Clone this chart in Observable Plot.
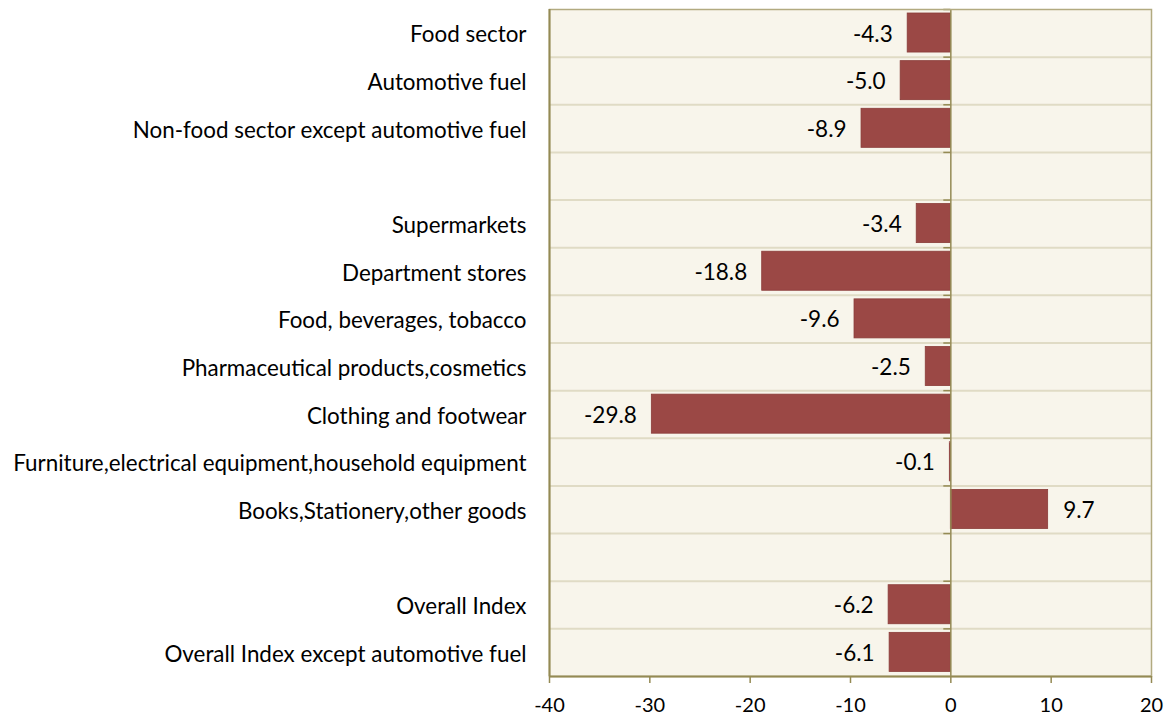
<!DOCTYPE html>
<html>
<head>
<meta charset="utf-8">
<script src="https://cdn.jsdelivr.net/npm/d3@7"></script>
<script src="https://cdn.jsdelivr.net/npm/@observablehq/plot@0.6"></script>
<style>
  html, body { margin: 0; padding: 0; background: #ffffff; }
  #chart svg { display: block; }
</style>
</head>
<body>
<div id="chart"></div>
<script>
// Categories top to bottom ("" = empty spacer row)
const categories = [
  "Food sector",
  "Automotive fuel",
  "Non-food sector except automotive fuel",
  "",
  "Supermarkets",
  "Department stores",
  "Food, beverages, tobacco",
  "Pharmaceutical products,cosmetics",
  "Clothing and footwear",
  "Furniture,electrical equipment,household equipment",
  "Books,Stationery,other goods",
  "",
  "Overall Index",
  "Overall Index except automotive fuel"
];
const values = [-4.3, -5.0, -8.9, null, -3.4, -18.8, -9.6, -2.5, -29.8, -0.1, 9.7, null, -6.2, -6.1];
const xTicks = [-40, -30, -20, -10, 0, 10, 20];

const rows = categories.map((c, i) => ({i, c, v: values[i]}));
const bars = rows.filter(d => d.v !== null);
const n = categories.length;
const boundaries = d3.range(0, n + 1);

const fontFamily = "Lato, 'Open Sans', sans-serif";

const chart = Plot.plot({
  width: 1167,
  height: 720,
  marginLeft: 549,
  marginRight: 16,
  marginTop: 9,
  marginBottom: 44,
  style: {fontFamily, fontSize: "20px", color: "#000", background: "transparent"},
  x: {domain: [-40, 20], label: null},
  y: {domain: [n, 0], label: null},
  marks: [
    // plot background
    Plot.rect([0], {x1: -40, x2: 20, y1: 0, y2: n, fill: "#f8f5eb"}),
    // horizontal row gridlines
    Plot.ruleY(boundaries.slice(1, -1), {stroke: "#e0dbc5", strokeWidth: 2}),
    // bars
    Plot.rectX(bars, {x1: 0, x2: "v", y1: "i", y2: d => d.i + 1, insetTop: 4, insetBottom: 4.6,
      fill: "#9b4845", stroke: "#8a3c39", strokeWidth: 0.8}),
    // zero line and small row ticks
    Plot.ruleX([0], {stroke: "#948a54", strokeWidth: 1.5}),
    Plot.ruleY(boundaries.slice(0, -1), {x1: -0.7, x2: 0, stroke: "#948a54", strokeWidth: 1.5}),
    // frame
    Plot.frame({stroke: "#b2aa80", strokeWidth: 1.5}),
    Plot.ruleX([-40], {stroke: "#948a54", strokeWidth: 2}),
    Plot.ruleY([n], {stroke: "#948a54", strokeWidth: 2}),
    // value labels
    Plot.text(bars.filter(d => d.v < 0), {x: "v", y: d => d.i + 0.5, text: d => d.v.toFixed(1),
      textAnchor: "end", dx: -15, dy: 1, fontSize: 22.5, fill: "#000"}),
    Plot.text(bars.filter(d => d.v >= 0), {x: "v", y: d => d.i + 0.5, text: d => d.v.toFixed(1),
      textAnchor: "start", dx: 15, dy: 1, fontSize: 22.5, fill: "#000"}),
    // axes
    Plot.axisX({ticks: xTicks, tickFormat: d => String(d), tickSize: 7, tickPadding: 14,
      stroke: "#948a54", fontSize: 20, fill: "#000", label: null}),
    Plot.axisY({ticks: rows.map(d => d.i + 0.5), tickFormat: t => categories[Math.floor(t)],
      tickSize: 0, tickPadding: 23, dy: 2, fontSize: 22.4, fill: "#000", label: null})
  ]
});
chart.querySelectorAll("[aria-label='x-axis tick'] path, [aria-label='x-axis tick']").forEach(el => {
  el.setAttribute("stroke", "#948a54");
  el.setAttribute("stroke-width", "1.5");
});
document.getElementById("chart").append(chart);
</script>
</body>
</html>
